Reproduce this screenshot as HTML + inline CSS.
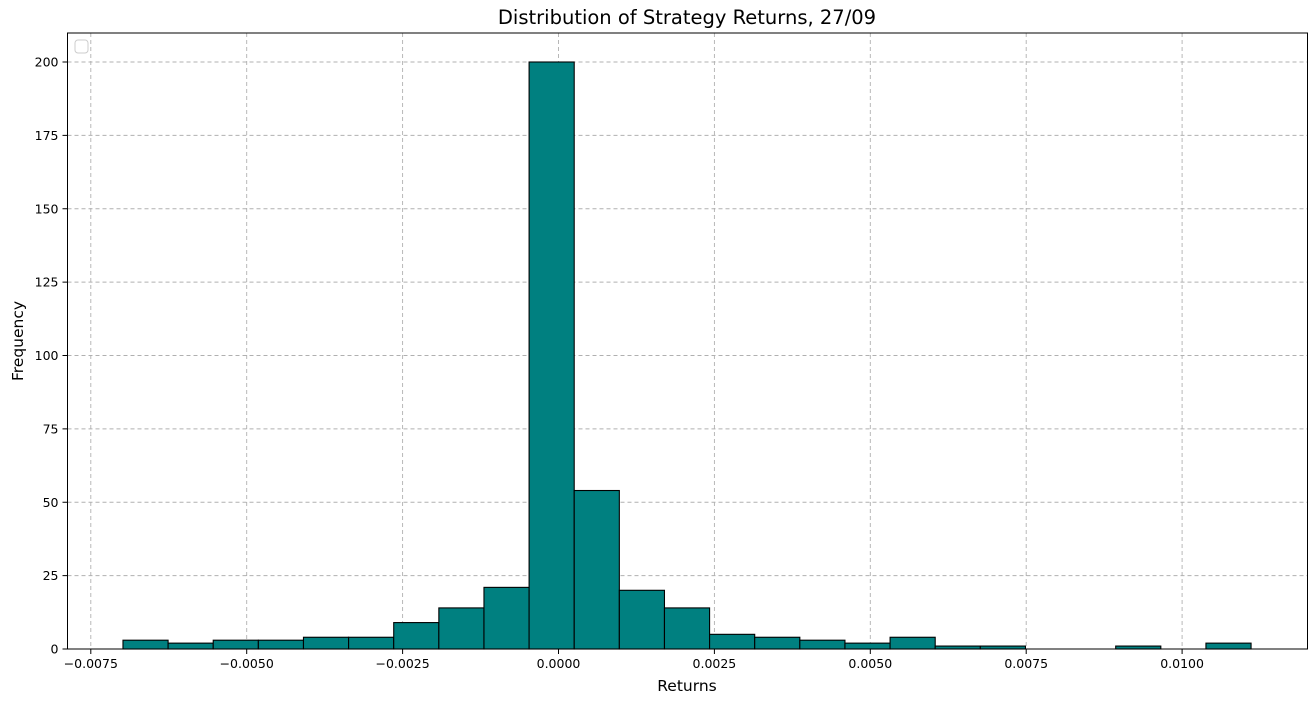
<!DOCTYPE html>
<html><head><meta charset="utf-8"><style>
html,body{margin:0;padding:0;background:#fff;}
svg{display:block;font-family:"DejaVu Sans","Liberation Sans",sans-serif;}
</style></head><body>
<svg id="chart" width="1316" height="703">
<text x="687" y="24" text-anchor="middle" font-size="19.5" fill="#000">Distribution of Strategy Returns, 27/09</text>
<g id="grid"></g>
<g id="bars"></g>
<g id="axes"></g>
<rect x="75" y="40" width="13" height="13" rx="3" fill="#fff" stroke="#ccc" stroke-width="1"/>
<text x="687" y="691" text-anchor="middle" font-size="15.5">Returns</text>
<text transform="translate(23,341) rotate(-90)" text-anchor="middle" font-size="15.5">Frequency</text>
</svg>
<script>
const binStart = -0.006984;
const binWidth = 0.0007236;
const counts = [3,2,3,3,4,4,9,14,21,200,54,20,14,5,4,3,2,4,1,1,0,0,1,0,2];
const xTicks = [-0.0075,-0.005,-0.0025,0,0.0025,0.005,0.0075,0.01];
const xTickLabels = ["\u22120.0075","\u22120.0050","\u22120.0025","0.0000","0.0025","0.0050","0.0075","0.0100"];
const yTicks = [0,25,50,75,100,125,150,175,200];

const L=67.5,R=1307.5,T=33,B=649;
const x = v => 558.5 + v/0.0025*155.9;
const y = v => 649 - v*2.935;
const NS="http://www.w3.org/2000/svg";
function mk(tag,attrs,parent){const e=document.createElementNS(NS,tag);for(const k in attrs)e.setAttribute(k,attrs[k]);parent.appendChild(e);return e;}
const grid=document.getElementById('grid'),bars=document.getElementById('bars'),axes=document.getElementById('axes');
xTicks.forEach((t,i)=>{
  const px=x(t);
  const g=mk('line',{x1:px,x2:px,y1:T,y2:B,stroke:'#b0b0b0','stroke-dasharray':'4,3','stroke-width':0.9},grid);
  
  
  const tk=mk('line',{x1:px,x2:px,y1:B,y2:B+5,stroke:'#000','stroke-width':1},axes);
  
  
  const tx=mk('text',{x:px,y:B+19,'text-anchor':'middle','font-size':12.5},axes);
  tx.textContent=xTickLabels[i];
  
  
});
yTicks.forEach(t=>{
  const py=y(t);
  const g=mk('line',{x1:L,x2:R,y1:py,y2:py,stroke:'#b0b0b0','stroke-dasharray':'4,3','stroke-width':0.9},grid);
  
  
  const tk=mk('line',{x1:L-5,x2:L,y1:py,y2:py,stroke:'#000','stroke-width':1},axes);
  
  
  const tx=mk('text',{x:L-9,y:py+4.5,'text-anchor':'end','font-size':12.5},axes);
  tx.textContent=String(t);
  
  
});
counts.forEach((c,i)=>{
  const x0=x(binStart+i*binWidth),x1=x(binStart+(i+1)*binWidth);
  const r=mk('rect',{x:x0,y:y(c),width:x1-x0,height:y(0)-y(c),fill:'#008080',stroke:'#000','stroke-width':1.1},bars);
  
  
});
const f=mk('rect',{x:L,y:T,width:R-L,height:B-T,fill:'none',stroke:'#000','stroke-width':1},axes);


</script>
</body></html>
